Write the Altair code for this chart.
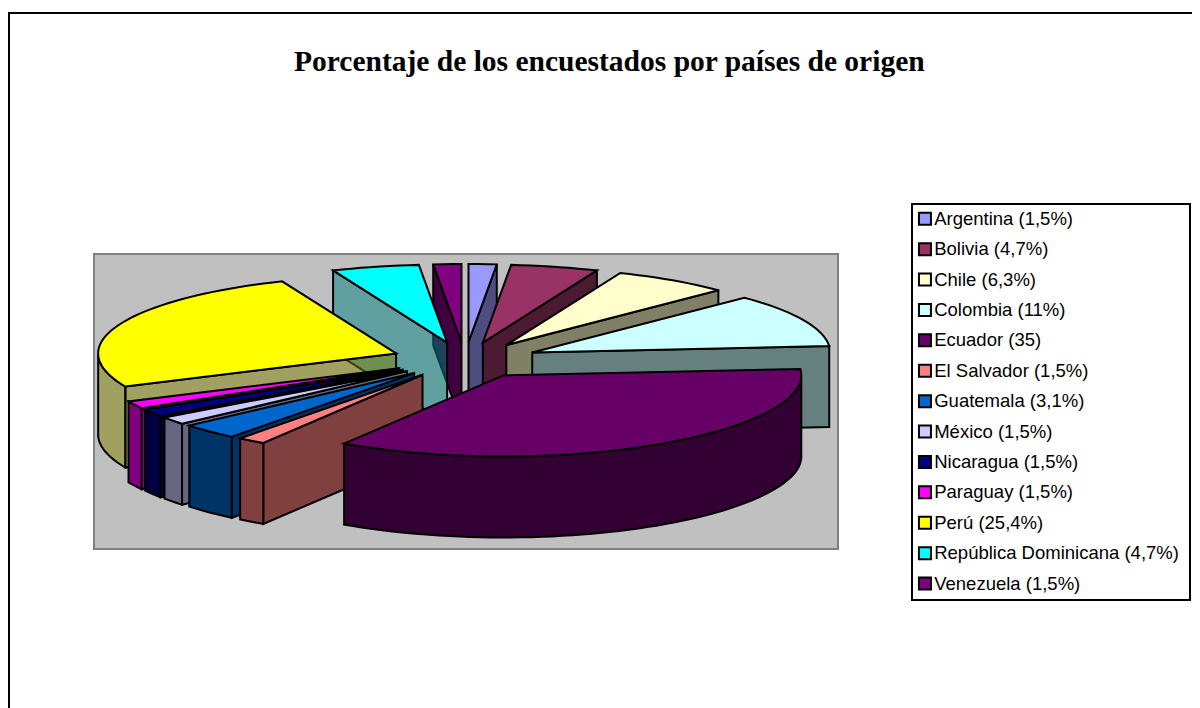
import math
import altair as alt

COUNTRIES = ["Argentina", "Bolivia", "Chile", "Colombia", "Ecuador", "El Salvador", "Guatemala",
             "México", "Nicaragua", "Paraguay", "Perú", "República Dominicana", "Venezuela"]
VALUES = [1.5, 4.7, 6.3, 11, 35, 1.5, 3.1, 1.5, 1.5, 1.5, 25.4, 4.7, 1.5]
LABELS = ["Argentina (1,5%)", "Bolivia (4,7%)", "Chile (6,3%)", "Colombia (11%)", "Ecuador (35)",
          "El Salvador (1,5%)", "Guatemala (3,1%)", "México (1,5%)", "Nicaragua (1,5%)",
          "Paraguay (1,5%)", "Perú (25,4%)", "República Dominicana (4,7%)", "Venezuela (1,5%)"]
TOP_COLORS = ["#9999FF", "#993366", "#FFFFCC", "#CCFFFF", "#660066", "#FF8080", "#0066CC",
              "#CCCCFF", "#000080", "#FF00FF", "#FFFF00", "#00FFFF", "#800080"]
WALL_COLORS = ["#4D4D80", "#4D1A33", "#808066", "#668080", "#330033", "#804040", "#003366",
               "#666680", "#000040", "#800080", "#808000", "#008080", "#400040"]
WALL_ALPHA = [1, 1, 1, 1, 1, 1, 1, 1, 1, 1, 0.5, 0.5, 1]
TITLE = "Porcentaje de los encuestados por países de origen"

# pie geometry, in page pixels
CX, CY, RX, RY, DEPTH = 465.0, 360.0, 298.0, 78.0, 81.0
EX, EY, PERSP = 74.0, 18.0, 0.04

features = []


def add(ring, fill, stroke="#000000", alpha=1):
    ring = [[round(a, 2), round(b, 2)] for a, b in ring]
    features.append({"type": "Feature",
                     "geometry": {"type": "Polygon", "coordinates": [ring + [ring[0]]]},
                     "properties": {"fill": fill, "stroke": stroke, "alpha": alpha}})


def box(x0, y0, x1, y1):
    return [[x0, y0], [x1, y0], [x1, y1], [x0, y1]]


add(box(9, 13, 1230, 740), "#FFFFFF")
add(box(94, 254, 838, 549), "#C0C0C0", "#808080")
add(box(912, 204, 1190, 600), "#FFFFFF")

total = sum(VALUES)
slices = []
acc = 0.0
for i, v in enumerate(VALUES):
    a0 = acc / total * 2 * math.pi
    acc += v
    a1 = acc / total * 2 * math.pi
    slices.append((i, a0, a1))
slices.sort(key=lambda s: -math.cos((s[1] + s[2]) / 2))


def rim(tx, ty, a):
    f = 1 + PERSP * max(0.0, -math.cos(a))
    return [tx + RX * math.sin(a), ty - RY * f * math.cos(a)]


for i, a0, a1 in slices:
    mid = (a0 + a1) / 2
    tx, ty = CX + EX * math.sin(mid), CY - EY * math.cos(mid)
    n = max(2, int((a1 - a0) / math.radians(2)) + 1)
    arc = [a0 + (a1 - a0) * k / n for k in range(n + 1)]
    top = [rim(tx, ty, a) for a in arc]
    # radial walls that face the viewer
    if math.cos(a0 - math.pi / 2) < 0:
        p = rim(tx, ty, a0)
        add([[tx, ty], p, [p[0], p[1] + DEPTH], [tx, ty + DEPTH]], WALL_COLORS[i], alpha=WALL_ALPHA[i])
    if math.cos(a1 + math.pi / 2) < 0:
        p = rim(tx, ty, a1)
        add([[tx, ty], p, [p[0], p[1] + DEPTH], [tx, ty + DEPTH]], WALL_COLORS[i], alpha=WALL_ALPHA[i])
    # outer wall, front half only
    front = [a for a in arc if math.cos(a) <= 0]
    if len(front) >= 2:
        up = [rim(tx, ty, a) for a in front]
        add(up + [[x, y + DEPTH] for x, y in reversed(up)], WALL_COLORS[i], alpha=WALL_ALPHA[i])
    add([[tx, ty]] + top, TOP_COLORS[i])

shapes = alt.Chart(
    alt.Data(values={"type": "FeatureCollection", "features": features},
             format=alt.DataFormat(property="features", type="json"))
).mark_geoshape(strokeJoin="miter", strokeWidth=2).encode(
    fill=alt.Fill("properties.fill:N", scale=None),
    stroke=alt.Stroke("properties.stroke:N", scale=None),
    fillOpacity=alt.FillOpacity("properties.alpha:Q", scale=None),
).project(type="identity", scale=1, translate=[-8, -8])

legend_data = alt.Data(values=[{"label": l} for l in LABELS])
legend = alt.Chart(legend_data).mark_square(size=0, filled=True).encode(
    color=alt.Color("label:N", sort=LABELS,
                    scale=alt.Scale(domain=LABELS, range=TOP_COLORS),
                    legend=alt.Legend(title=None, orient="none", legendX=907.7, legendY=201.5,
                                      symbolType="square", symbolSize=144,
                                      symbolStrokeColor="#000000", symbolStrokeWidth=2,
                                      symbolOpacity=1,
                                      labelFont="Liberation Sans", labelFontSize=18.5,
                                      labelColor="#000000", labelLimit=400,
                                      rowPadding=9.4, padding=0, labelOffset=0, symbolLimit=20,
                                      columns=1)),
)

chart = alt.layer(shapes, legend).properties(
    width=1184, height=700, padding=0, autosize=alt.AutoSizeParams(type="none"),
    background="#FFFFFF",
    title=alt.TitleParams(TITLE, font="Liberation Serif", fontSize=29.5, fontWeight="bold",
                          color="#000000", anchor="start", dx=286, dy=69, offset=0),
).configure_view(stroke=None)

chart.save("out.html", embed_options={"renderer": "svg", "actions": False})
